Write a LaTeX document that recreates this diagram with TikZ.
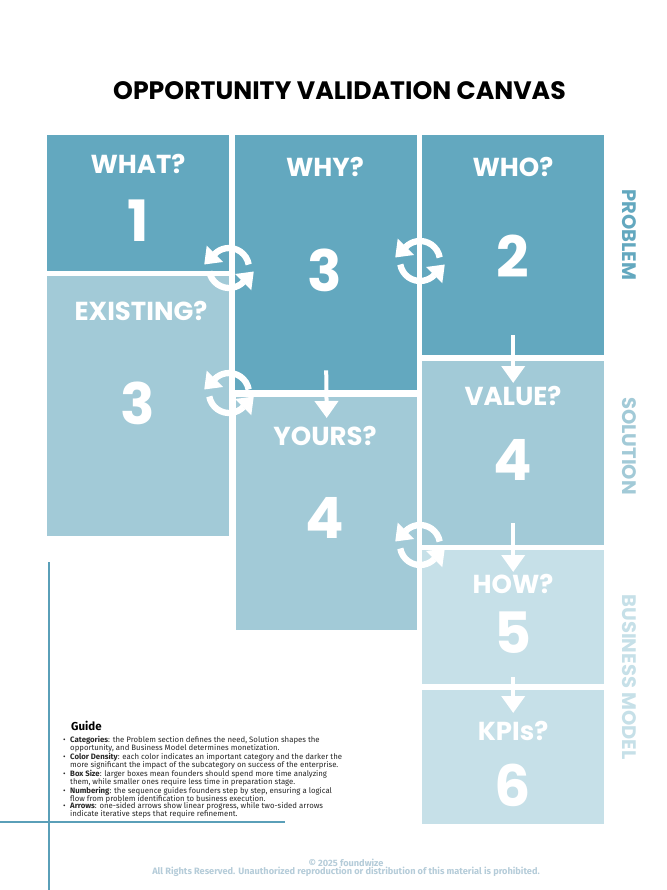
\documentclass[tikz,border=0pt]{standalone}
\usepackage{fontspec}
\setmainfont{Fira Sans}
\newfontfamily\pop{Poppins}
\usetikzlibrary{arrows.meta,calc}
\definecolor{cdark}{RGB}{99,168,191}
\definecolor{cmid}{RGB}{162,202,215}
\definecolor{clight}{RGB}{198,224,232}
\definecolor{cline}{RGB}{90,159,184}
\definecolor{cfoot}{RGB}{181,204,217}
\definecolor{ctext}{RGB}{40,40,40}
\tikzset{
  box/.style={draw=none, fill=#1, inner sep=0pt, anchor=north west},
  head/.style={text=white, inner sep=0pt, font=\pop\bfseries\fontsize{26}{28}\selectfont},
  num/.style={text=white, inner sep=0pt, font=\pop\bfseries\fontsize{57}{60}\selectfont},
  side/.style={rotate=-90, inner sep=0pt, font=\pop\bfseries\fontsize{19.5}{21}\selectfont},
  darr/.style={draw=white, line width=4pt, -{Triangle[width=23pt,length=17pt]}},
  cyc/.pic={
    \draw[white, line width=6.3pt] (10:20) arc[start angle=10, end angle=136, radius=20];
    \draw[white, line width=6.3pt] (190:20) arc[start angle=190, end angle=316, radius=20];
    \begin{scope}[rotate=135]
      \fill[white] (8.5,0) -- (31.5,0) -- (20,15) -- cycle;
    \end{scope}
    \begin{scope}[rotate=315]
      \fill[white] (8.5,0) -- (31.5,0) -- (20,15) -- cycle;
    \end{scope}
  }
}
\begin{document}
\begin{tikzpicture}[x=1pt,y=1pt]
\path[use as bounding box, fill=white] (0,0) rectangle (666,-890);

% title
\node[inner sep=0pt, font=\pop\bfseries\fontsize{25.2}{27}\selectfont] (title) at (339.5,-91) {OPPORTUNITY VALIDATION CANVAS};

% boxes
\node[box=cdark, minimum width=182pt, minimum height=136pt] (what) at (47,-135) {};
\node[box=cmid, minimum width=182pt, minimum height=260pt] (exist) at (47,-276) {};
\node[box=cdark, minimum width=182pt, minimum height=255pt] (why) at (235,-135) {};
\node[box=cmid, minimum width=181pt, minimum height=233pt] (yours) at (236,-397) {};
\node[box=cdark, minimum width=182pt, minimum height=220pt] (who) at (422,-135) {};
\node[box=cmid, minimum width=182pt, minimum height=184pt] (value) at (422,-361) {};
\node[box=clight, minimum width=182pt, minimum height=134pt] (how) at (422,-550) {};
\node[box=clight, minimum width=182pt, minimum height=134pt] (kpi) at (422,-690) {};

% headings and numbers
\node[head] (whatH) at (138,-164) {WHAT?};
\node[num] (whatN) at (138,-221) {1};
\node[head] (existH) at (141,-311) {EXISTING?};
\node[num] (existN) at (138,-403) {3};
\node[head] (whyH) at (325,-167) {WHY?};
\node[num] (whyN) at (325,-270) {3};
\node[head] (whoH) at (513,-167) {WHO?};
\node[num] (whoN) at (513,-256) {2};
\node[head] (yoursH) at (325,-436) {YOURS?};
\node[num] (yoursN) at (325,-518) {4};
\node[head] (valueH) at (513,-396) {VALUE?};
\node[num] (valueN) at (513,-460) {4};
\node[head] (howH) at (513,-584) {HOW?};
\node[num] (howN) at (513,-633) {5};
\node[head] (kpiH) at (513,-731) {KPIs?};
\node[num] (kpiN) at (513,-785) {6};

% one-sided arrows
\draw[darr] ($(why.south)+(0,20)$) -- ($(yours.north)+(0,-21)$);
\draw[darr] ($(who.south)+(0,20)$) -- ($(value.north)+(0,-22)$);
\draw[darr] ($(value.south)+(0,22)$) -- ($(how.north)+(0,-22)$);
\draw[darr] ($(how.south)+(0,7)$) -- ($(kpi.north)+(0,-23)$);

% two-sided (iterative) arrows
\pic at (229,-268) {cyc};
\pic at (420,-261) {cyc};
\pic at (229,-393) {cyc};
\pic at (420,-545) {cyc};

% side labels
\node[side, text=cdark] (lprob) at (629,-235) {PROBLEM};
\node[side, text=cmid] (lsol) at (629,-446) {SOLUTION};
\node[side, text=clight] (lbm) at (629,-677) {BUSINESS MODEL};

% decorative lines
\draw[cline, line width=1.5pt] (49,-562) -- (49,-890);
\draw[cline, line width=1.5pt] (0,-822) -- (285,-822);

% guide
\node[anchor=west, inner sep=0pt, text=black, font=\bfseries\fontsize{11.5}{13}\selectfont] (guide) at (71,-726) {Guide};
\node[anchor=north west, inner sep=0pt, align=left, text=ctext, font=\fontsize{7.8}{7.9}\selectfont] (guidetext) at (63,-736) {%
\makebox[7pt][l]{\textbullet}\textbf{Categories}: the Problem section defines the need, Solution shapes the\\
\hspace*{7pt}opportunity, and Business Model determines monetization.\\
\makebox[7pt][l]{\textbullet}\textbf{Color Density}: each color indicates an important category and the darker the\\
\hspace*{7pt}more significant the impact of the subcategory on success of the enterprise.\\
\makebox[7pt][l]{\textbullet}\textbf{Box Size}: larger boxes mean founders should spend more time analyzing\\
\hspace*{7pt}them, while smaller ones require less time in preparation stage.\\
\makebox[7pt][l]{\textbullet}\textbf{Numbering}: the sequence guides founders step by step, ensuring a logical\\
\hspace*{7pt}flow from problem identification to business execution.\\
\makebox[7pt][l]{\textbullet}\textbf{Arrows}: one-sided arrows show linear progress, while two-sided arrows\\
\hspace*{7pt}indicate iterative steps that require refinement.};

% footer
\node[inner sep=0pt, align=center, text=cfoot, font=\bfseries\fontsize{9.2}{8.4}\selectfont] (footer) at (346,-868) {© 2025 foundwize\\All Rights Reserved. Unauthorized reproduction or distribution of this material is prohibited.};
\end{tikzpicture}
\end{document}
